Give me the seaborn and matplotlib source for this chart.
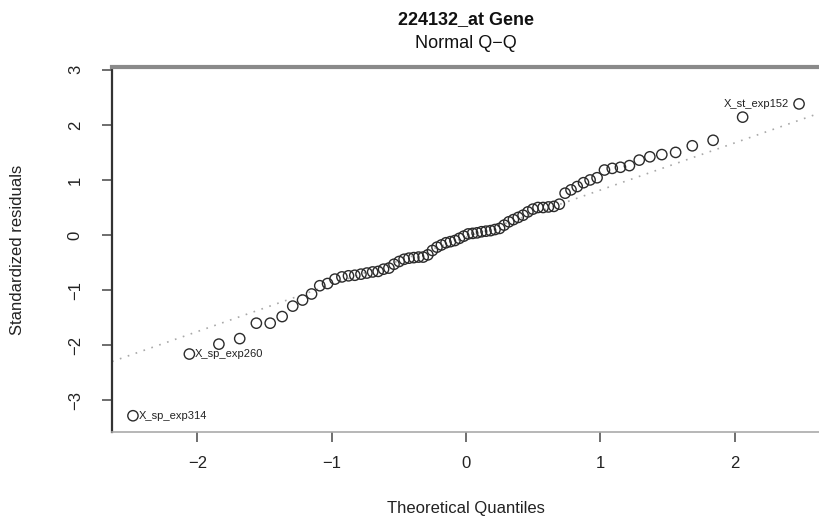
import matplotlib
matplotlib.use("Agg")
import matplotlib.pyplot as plt
import seaborn as sns
import numpy as np
import pandas as pd

# ---- data ----
theoretical_quantiles = [
    -2.48, -2.06, -1.84, -1.685, -1.561, -1.458, -1.369, -1.290, -1.217, -1.150,
    -1.089, -1.031, -0.976, -0.924, -0.875, -0.828, -0.782, -0.738, -0.695, -0.654,
    -0.614, -0.574, -0.536, -0.498, -0.461, -0.425, -0.389, -0.353, -0.319, -0.284,
    -0.250, -0.216, -0.183, -0.149, -0.116, -0.0825, -0.0495, -0.0165,
    0.0165, 0.0495, 0.0825, 0.116, 0.149, 0.183, 0.216, 0.250, 0.284, 0.319,
    0.353, 0.389, 0.425, 0.461, 0.498, 0.536, 0.574, 0.614, 0.654, 0.695,
    0.738, 0.782, 0.828, 0.875, 0.924, 0.976, 1.031, 1.089, 1.150, 1.217,
    1.290, 1.369, 1.458, 1.561, 1.685, 1.84, 2.06, 2.48,
]
standardized_residuals = [
    -3.28, -2.16, -1.98, -1.88, -1.60, -1.60, -1.48, -1.29, -1.18, -1.07,
    -0.92, -0.88, -0.80, -0.76, -0.74, -0.73, -0.71, -0.69, -0.67, -0.66,
    -0.62, -0.60, -0.53, -0.48, -0.44, -0.42, -0.41, -0.40, -0.40, -0.36,
    -0.28, -0.22, -0.18, -0.14, -0.12, -0.10, -0.06, -0.02,
    0.02, 0.03, 0.04, 0.06, 0.07, 0.08, 0.10, 0.12, 0.18, 0.24,
    0.28, 0.32, 0.36, 0.42, 0.47, 0.50, 0.50, 0.51, 0.52, 0.56,
    0.76, 0.82, 0.88, 0.95, 1.00, 1.04, 1.18, 1.21, 1.23, 1.26,
    1.36, 1.42, 1.46, 1.50, 1.62, 1.72, 2.14, 2.38,
]
labels = {0: "X_sp_exp314", 1: "X_sp_exp260", 75: "X_st_exp152"}
qqline_intercept = -0.04
qqline_slope = 0.856

x_ticks = [-2, -1, 0, 1, 2]
y_ticks = [-3, -2, -1, 0, 1, 2, 3]

df = pd.DataFrame({"tq": theoretical_quantiles, "sr": standardized_residuals})

sns.set_theme(style="white")
plt.rcParams["font.family"] = ["Liberation Sans", "DejaVu Sans"]

fig = plt.figure(figsize=(8.2, 5.19), dpi=100)
ax = fig.add_axes([112 / 820, 1 - 432 / 519, 1 - 112 / 820, (432 - 67) / 519])

ax.axline((0, qqline_intercept), slope=qqline_slope, color="#a8a8a8",
          linestyle=(0, (1, 4)), linewidth=1.2, zorder=1)

sns.scatterplot(data=df, x="tq", y="sr", ax=ax, marker="o", s=55,
                facecolor="none", edgecolor="#2b2b2b", linewidth=1.0, zorder=3)

for i, txt in labels.items():
    xv, yv = theoretical_quantiles[i], standardized_residuals[i]
    if xv > 0:
        ax.annotate(txt, (xv, yv), xytext=(-7, 0), textcoords="offset points",
                    ha="right", va="center", fontsize=8, color="#222222")
    else:
        ax.annotate(txt, (xv, yv), xytext=(4, 0), textcoords="offset points",
                    ha="left", va="center", fontsize=8, color="#222222")

ax.set_xlim(-2.636, 2.636)
ax.set_ylim(-3.575, 3.05)
ax.set_xticks(x_ticks)
ax.set_yticks(y_ticks)
ax.set_xticklabels([str(t).replace("-", "\u2212") for t in x_ticks], fontsize=12)
ax.set_yticklabels([str(t).replace("-", "\u2212") for t in y_ticks], fontsize=12,
                   rotation=90, va="center")
ax.tick_params(axis="both", direction="out", length=7, width=1.2,
               color="#555555", labelcolor="#222222")
ax.tick_params(axis="x", bottom=True, pad=10)
ax.tick_params(axis="y", left=True, pad=14)

ax.set_xlabel("Theoretical Quantiles", fontsize=12, color="#222222", labelpad=22)
ax.set_ylabel("Standardized residuals", fontsize=12, color="#222222", va="center")
ax.yaxis.set_label_coords(-0.133, 0.5)

ax.spines["right"].set_visible(False)
ax.spines["left"].set_color("#333333")
ax.spines["left"].set_linewidth(1.6)
ax.spines["top"].set_color("#8a8a8a")
ax.spines["top"].set_linewidth(3.0)
ax.spines["bottom"].set_color("#aaaaaa")
ax.spines["bottom"].set_linewidth(1.2)

fig.text(466 / 820, 1 - 20 / 519, "224132_at Gene", ha="center", va="center",
         fontsize=13, fontweight="bold", color="#111111")
fig.text(466 / 820, 1 - 44 / 519, "Normal Q\u2212Q", ha="center", va="center",
         fontsize=13, color="#111111")

fig.savefig("out.png", dpi=100)
